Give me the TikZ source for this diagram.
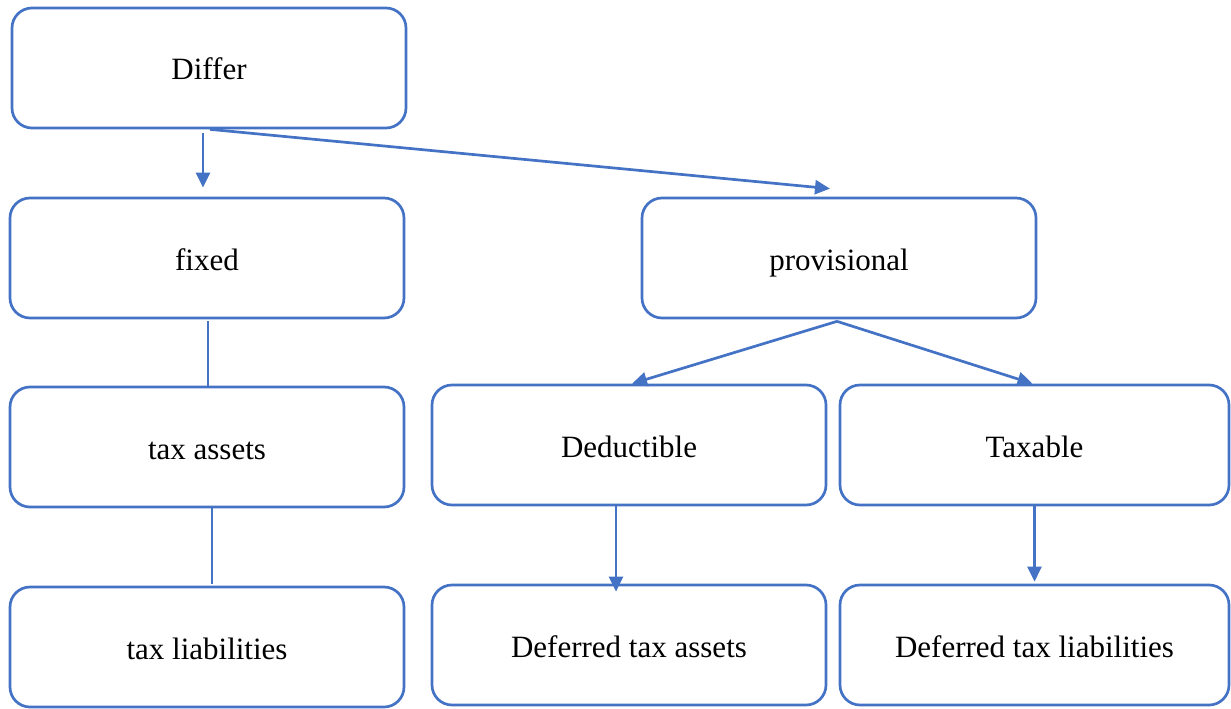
\documentclass[tikz,border=0pt]{standalone}
\usepackage{fontspec}
\setmainfont{Liberation Serif}
\usetikzlibrary{arrows.meta,calc}
\definecolor{boxblue}{HTML}{4472C4}
\begin{document}
\begin{tikzpicture}[x=1pt,y=-1pt,
  box/.style={draw=boxblue,line width=2.7pt,rounded corners=20pt,
    minimum width=394pt,minimum height=120pt,inner sep=0pt,
    text height=30pt,text depth=6pt,
    font=\fontsize{31}{37}\selectfont,text=black},
  conn/.style={draw=boxblue,line width=2.7pt},
  arr/.style={conn,-{Triangle[length=15pt,width=14pt]}}]
\useasboundingbox (0,0) rectangle (1231,709);
\node[box] (differ) at (209,68) {Differ};
\node[box] (fixed) at (207,258) {fixed};
\node[box] (assets) at (207,447) {tax assets};
\node[box] (liab) at (207,647) {tax liabilities};
\node[box] (prov) at (839,258) {provisional};
\node[box] (ded) at (629,445) {Deductible};
\node[box,minimum width=389pt] (tax) at (1034.5,445) {Taxable};
\node[box] (dta) at (629,645) {Deferred tax assets};
\node[box,minimum width=389pt] (dtl) at (1034.5,645) {Deferred tax liabilities};
\draw[arr] ($(differ.south)+(-6,4)$) -- ($(fixed.north)+(-4,-9)$);
\draw[arr] ($(differ.south)+(1,0)$) -- ($(prov.north)+(-9,-8)$);
\draw[conn] ($(fixed.south)+(1,2)$) -- ($(assets.north)+(1,0)$);
\draw[conn] ($(assets.south)+(5,0)$) -- ($(liab.north)+(5,-2)$);
\draw[arr] ($(prov.south)+(-2,2)$) -- ($(ded.north)+(3,0)$);
\draw[arr] ($(prov.south)+(-2,2)$) -- ($(tax.north)+(-2,0)$);
\draw[arr] ($(ded.south)+(-13,0)$) -- ($(dta.north)+(-13,8)$);
\draw[arr] (tax.south) -- ($(dtl.north)+(0,-2)$);
\end{tikzpicture}
\end{document}
